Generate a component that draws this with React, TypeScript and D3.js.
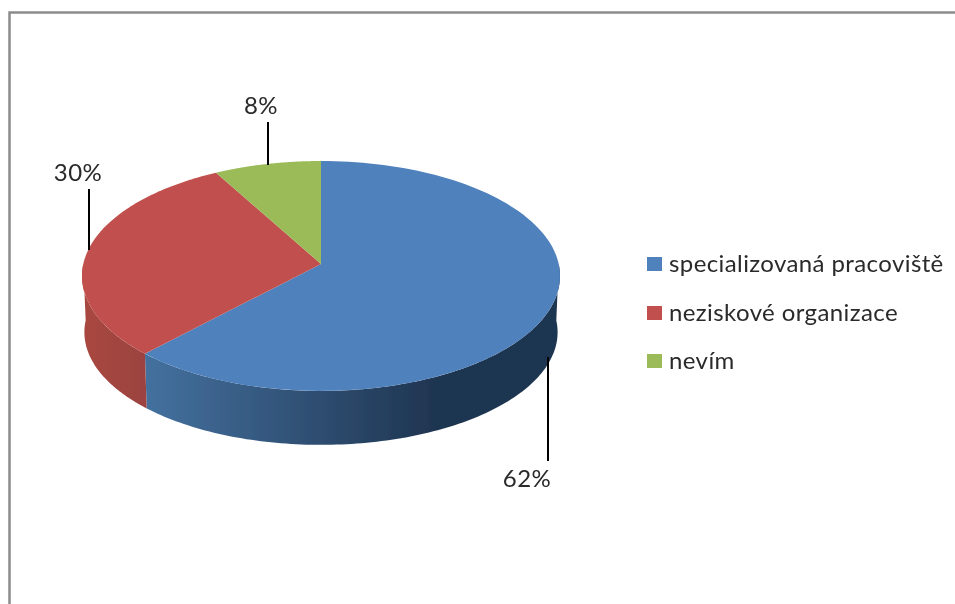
import React from "react";
import * as d3 from "d3";

const categories = ["specializovaná pracoviště", "neziskové organizace", "nevím"];
const values = [62, 30, 8];
const labels = ["62%", "30%", "8%"];
const topColors = ["#4f81bd", "#c0504d", "#9bbb59"];
const wallStops = [
  [["0%", "#44719f"], ["70%", "#1f3551"], ["100%", "#1f3551"]],
  [["0%", "#a8473f"], ["100%", "#9c433f"]],
  [["0%", "#7a9446"], ["100%", "#7a9446"]],
];

const W = 955, H = 604;
const cx = 321, apexY = 264;
const k = -0.104, A = 113.7, B = 237.7;
const wallScaleX = 0.99, wallScaleY = 0.98, wallY = 320.5;

const projTop = (t: number): [number, number] => {
  const u = Math.sin(t), v = -Math.cos(t), d = 1 + k * v;
  return [cx + (B * u) / d, apexY + (A * v) / d];
};
const projBottom = (t: number): [number, number] => {
  const u = Math.sin(t), v = -Math.cos(t), d = 1 + k * v;
  return [cx + (wallScaleX * B * u) / d, wallY + (wallScaleY * A * v) / d];
};

const line = d3.line<[number, number]>();
const steps = (a: number, b: number) => d3.range(0, 121).map((i) => a + ((b - a) * i) / 120);

const arcs = d3.pie<number>().sort(null)(values);
const wallMin = Math.PI * 0.5, wallMax = Math.PI * 1.5;

const leaders = [
  { x: 548, y1: 357, y2: 461, lx: 527, ly: 487 },
  { x: 89, y1: 189, y2: 250, lx: 78, ly: 181 },
  { x: 268, y1: 122, y2: 165, lx: 261, ly: 114 },
];
const legendY = [264, 313, 361];

export default function App() {
  return (
    <svg width={W} height={H} style={{ position: "absolute", left: 0, top: 0, background: "#fff" }}
      fontFamily="Lato, Carlito, sans-serif">
      <defs>
        <filter id="soft" filterUnits="userSpaceOnUse" x={0} y={0} width={W} height={H}>
          <feGaussianBlur stdDeviation={0.45} />
        </filter>
        {arcs.map((a, i) => {
          const s = Math.max(a.startAngle, wallMin), e = Math.min(a.endAngle, wallMax);
          if (e <= s) return null;
          const xs = [projTop(s)[0], projTop(e)[0]];
          return (
            <linearGradient key={i} id={`wall${i}`} gradientUnits="userSpaceOnUse"
              x1={Math.min(...xs)} x2={Math.max(...xs)} y1={0} y2={0}>
              {wallStops[i].map(([o, c]) => <stop key={o} offset={o} stopColor={c} />)}
            </linearGradient>
          );
        })}
      </defs>
      <g filter="url(#soft)">
        <path d={`M9.5,${H}V12.5H${W}`} fill="none" stroke="#8c8c8c" strokeWidth={2.5} />
        {arcs.map((a, i) => {
          const s = Math.max(a.startAngle, wallMin), e = Math.min(a.endAngle, wallMax);
          if (e <= s) return null;
          const ts = steps(s, e);
          const pts = [...ts.map(projTop), ...ts.slice().reverse().map(projBottom)];
          return <path key={i} d={line(pts)! + "Z"} fill={`url(#wall${i})`} />;
        })}
        {arcs.map((a, i) => {
          const pts: [number, number][] = [[cx, apexY], ...steps(a.startAngle, a.endAngle).map(projTop)];
          return <path key={i} d={line(pts)! + "Z"} fill={topColors[i]} />;
        })}
        {leaders.map((l, i) => (
          <g key={i}>
            <line x1={l.x} x2={l.x} y1={l.y1} y2={l.y2} stroke="#000" strokeWidth={2} />
            <text x={l.lx} y={l.ly} textAnchor="middle" fontSize={24} letterSpacing={0.4} fill="#2a2a2a">{labels[i]}</text>
          </g>
        ))}
        {categories.map((c, i) => (
          <g key={c}>
            <rect x={647} y={legendY[i] - 7} width={15} height={14} fill={topColors[i]} />
            <text x={669} y={legendY[i] + 8} fontSize={24} letterSpacing={0.4} fill="#2a2a2a">{c}</text>
          </g>
        ))}
      </g>
    </svg>
  );
}
